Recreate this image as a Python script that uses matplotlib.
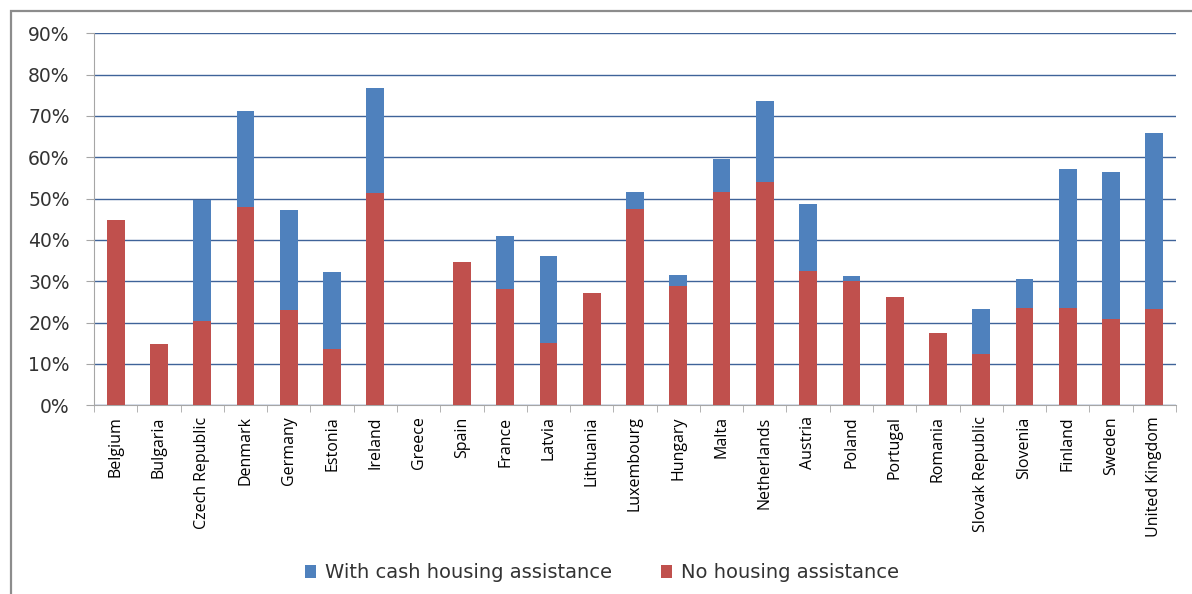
import matplotlib

matplotlib.use("Agg")

import matplotlib.pyplot as plt
from matplotlib.patches import Rectangle
from matplotlib.ticker import FuncFormatter, MultipleLocator
import numpy as np

COUNTRIES = [
    "Belgium", "Bulgaria", "Czech Republic", "Denmark", "Germany", "Estonia",
    "Ireland", "Greece", "Spain", "France", "Latvia", "Lithuania", "Luxembourg",
    "Hungary", "Malta", "Netherlands", "Austria", "Poland", "Portugal",
    "Romania", "Slovak Republic", "Slovenia", "Finland", "Sweden", "United Kingdom",
]

# share with no housing assistance (bottom segment), %
NO_ASSIST = [
    44.8, 14.8, 20.3, 48.0, 23.1, 13.6, 51.3, 0.0, 34.7, 28.2, 15.0, 27.1, 47.5,
    28.9, 51.7, 54.0, 32.4, 30.1, 26.2, 17.6, 12.4, 23.6, 23.6, 21.0, 23.3,
]

# total with cash housing assistance (top of the stacked bar), %
TOTAL = [
    44.8, 14.8, 49.7, 71.2, 47.3, 32.2, 76.8, 0.0, 34.7, 41.0, 36.1, 27.1, 51.5,
    31.5, 59.6, 73.6, 48.7, 31.3, 26.2, 17.6, 23.3, 30.6, 57.2, 56.4, 65.9,
]

BLUE = "#4F81BD"
RED = "#C0504D"

no_assist = np.array(NO_ASSIST)
cash = np.array(TOTAL) - no_assist
x = np.arange(len(COUNTRIES))

fig = plt.figure(figsize=(11.92, 5.94), dpi=100)
ax = fig.add_axes([94 / 1192, 1 - 405.3 / 594, (1176 - 94) / 1192, (405.3 - 33.3) / 594])

# outer chart frame
fig.patches.append(
    Rectangle((11 / 1192, -0.1), 1.2, 1 - 11 / 594 + 0.1, transform=fig.transFigure,
              fill=False, edgecolor="#8c8c8c", lw=1.6, zorder=0)
)

w = 0.41
ax.bar(x, no_assist, w, color=RED, lw=0, zorder=3, label="No housing assistance")
ax.bar(x, cash, w, bottom=no_assist, color=BLUE, lw=0, zorder=3,
       label="With cash housing assistance")

ax.set_xlim(-0.5, len(COUNTRIES) - 0.5)
ax.set_ylim(0, 90)
ax.yaxis.set_major_locator(MultipleLocator(10))
ax.yaxis.set_major_formatter(FuncFormatter(lambda v, _: f"{v:.0f}%"))
ax.grid(axis="y", color="#3f6399", lw=1.0, zorder=0)
ax.set_axisbelow(True)

for side in ["top", "right"]:
    ax.spines[side].set_visible(False)
ax.spines["left"].set_color("#a6a6a6")
ax.spines["bottom"].set_color("#a6a6a6")

ax.set_xticks(x)
ax.set_xticklabels(COUNTRIES, rotation=90, fontsize=11.5, family="Open Sans")
ax.tick_params(axis="x", length=0, pad=8)
ax.set_xticks(np.arange(len(COUNTRIES) + 1) - 0.5, minor=True)
ax.tick_params(axis="x", which="minor", length=5, color="#a6a6a6", direction="out")
ax.tick_params(axis="y", length=6, color="#a6a6a6", labelsize=13.5, labelcolor="#333333", pad=11.5)

handles, labels = ax.get_legend_handles_labels()
fig.legend(handles[::-1], labels[::-1], loc="center", bbox_to_anchor=(0.505, 1 - 573 / 594),
           ncol=2, frameon=False, prop={"family": "DejaVu Sans", "size": 14},
           handlelength=0.6, handleheight=0.6, handletextpad=0.45, columnspacing=2.5,
           labelcolor="#333333")

fig.savefig("out.png", dpi=100)
